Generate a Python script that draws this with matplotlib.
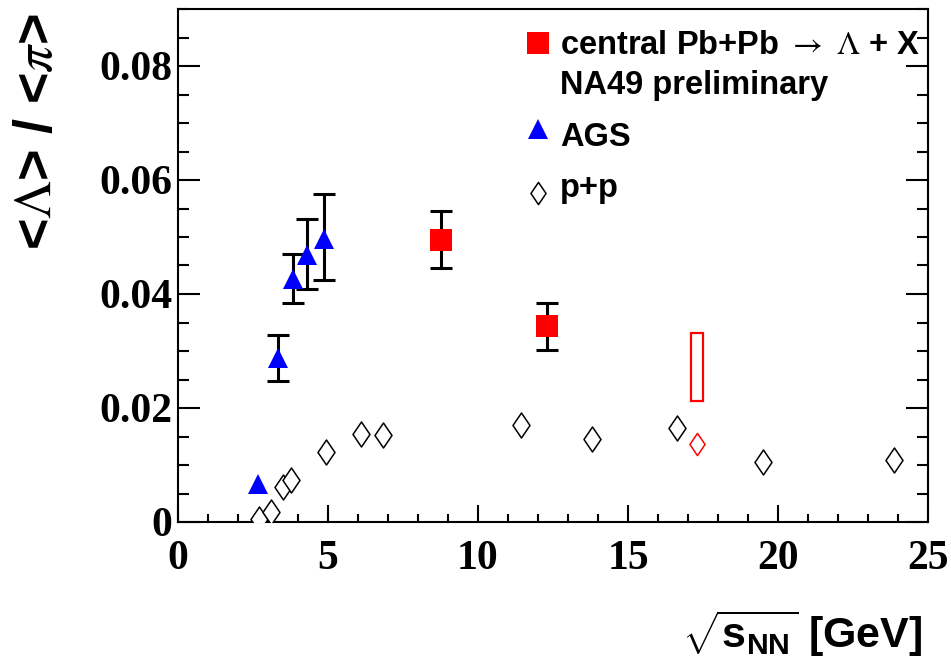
import matplotlib
matplotlib.use('Agg')
import matplotlib.pyplot as plt
import numpy as np
from matplotlib.ticker import MultipleLocator
from matplotlib.patches import Rectangle
from matplotlib.path import Path

plt.rcParams['mathtext.fontset'] = 'custom'
plt.rcParams['mathtext.bf'] = 'Liberation Sans:bold'
plt.rcParams['mathtext.rm'] = 'Liberation Sans:bold'

# NA49 central Pb+Pb -> Lambda + X
na49_x = np.array([8.77, 12.3])
na49_y = np.array([0.0495, 0.0343])
na49_err = np.array([0.0050, 0.0041])

# 158 AGeV point, shown as an open band
band_x = 17.3
band_lo, band_hi = 0.0212, 0.0331

# AGS
ags_x = np.array([2.68, 3.32, 3.83, 4.29, 4.87])
ags_y = np.array([0.0066, 0.0287, 0.0427, 0.0468, 0.0497])
ags_lo = np.array([np.nan, 0.0248, 0.0385, 0.0409, 0.0424])
ags_hi = np.array([np.nan, 0.0328, 0.0471, 0.0531, 0.0575])

# p+p
pp_x = np.array([2.70, 3.09, 3.50, 3.78, 4.93, 6.11, 6.84, 11.44, 13.81, 16.64, 19.49, 23.86])
pp_y = np.array([0.0005, 0.0017, 0.0061, 0.0074, 0.0123, 0.0155, 0.0153, 0.0170, 0.0146, 0.0165, 0.0106, 0.0109])
pp_red_x = [17.29]
pp_red_y = [0.0136]

diamond = Path([(0, 1), (0.68, 0), (0, -1), (-0.68, 0), (0, 1)],
               [Path.MOVETO, Path.LINETO, Path.LINETO, Path.LINETO, Path.CLOSEPOLY])

fig = plt.figure(figsize=(9.51, 6.67), dpi=100)
ax = fig.add_axes([178/951, 1-522/667, 750/951, 513/667])

ax.plot(pp_x, pp_y, ls='none', marker=diamond, ms=18, mfc='white', mec='black', mew=1.1, zorder=3)
ax.plot(pp_red_x, pp_red_y, ls='none', marker=diamond, ms=16, mfc='white', mec='red', mew=1.1, zorder=3)

ax.add_patch(Rectangle((band_x - 0.21, band_lo), 0.42, band_hi - band_lo,
                       fill=False, ec='red', lw=1.6, zorder=3))

ok = ~np.isnan(ags_lo)
ax.errorbar(ags_x[ok], ags_y[ok], yerr=[ags_y[ok] - ags_lo[ok], ags_hi[ok] - ags_y[ok]],
            fmt='none', ecolor='black', elinewidth=2.2, capsize=8, capthick=2.2, zorder=4)
ax.errorbar(na49_x, na49_y, yerr=na49_err, fmt='none', ecolor='black',
            elinewidth=2.2, capsize=8, capthick=2.2, zorder=4)
ax.plot(ags_x, ags_y, ls='none', marker='^', ms=15, color='blue', mew=0, zorder=5)
ax.plot(na49_x, na49_y, ls='none', marker='s', ms=16, color='red', mew=0, zorder=5)

ax.set_xlim(0, 25)
ax.set_ylim(0, 0.09)
ax.xaxis.set_major_locator(MultipleLocator(5))
ax.xaxis.set_minor_locator(MultipleLocator(1))
ax.yaxis.set_major_locator(MultipleLocator(0.02))
ax.yaxis.set_minor_locator(MultipleLocator(0.005))
ax.set_yticks([0, 0.02, 0.04, 0.06, 0.08])
ax.set_yticklabels(['0', '0.02', '0.04', '0.06', '0.08'])
ax.tick_params(which='both', direction='in', left=True, right=True, top=False, bottom=True, width=1.5)
ax.tick_params(which='major', axis='y', length=16)
ax.tick_params(which='minor', axis='y', length=8)
ax.tick_params(which='major', axis='x', length=12)
ax.tick_params(which='minor', axis='x', length=6)
ax.tick_params(axis='y', pad=4)
ax.tick_params(axis='x', pad=13)
for lab in ax.get_xticklabels() + ax.get_yticklabels():
    lab.set_fontfamily('Liberation Serif')
    lab.set_fontweight('bold')
    lab.set_fontsize(30)
for sp in ax.spines.values():
    sp.set_linewidth(1.5)

# legend
tf = ax.transAxes
ax.plot([0.48], [0.934], transform=tf, marker='s', ms=16, color='red', mew=0, clip_on=False)
ax.plot([0.48], [0.766], transform=tf, marker='^', ms=15, color='blue', mew=0, clip_on=False)
ax.plot([0.48], [0.641], transform=tf, marker=diamond, ms=16, mfc='white', mec='black', mew=1.1, clip_on=False)
lkw = dict(transform=tf, fontfamily='Liberation Sans', fontweight='bold', fontsize=23.5, va='baseline', ha='left')
ax.text(0.509, 0.912, r'central Pb+Pb $\rightarrow$ $\Lambda$ + X', math_fontfamily='stix', **lkw)
ax.text(0.509, 0.834, 'NA49 preliminary', **lkw)
ax.text(0.509, 0.733, 'AGS', **lkw)
ax.text(0.509, 0.634, 'p+p', **lkw)

fig.text(38/951, 1-131.5/667, r'<$\Lambda$> / <$\pi$>', rotation=90, ha='center', va='center',
         fontfamily='Liberation Sans', fontweight='bold', fontsize=39, math_fontfamily='stix')
fig.text(922/951, 1-634/667, r'$\sqrt{\mathbf{s}_{\mathbf{NN}}}$ [GeV]', ha='right', va='center',
         fontfamily='Liberation Sans', fontweight='bold', fontsize=31)

fig.savefig('out.png', dpi=100)
